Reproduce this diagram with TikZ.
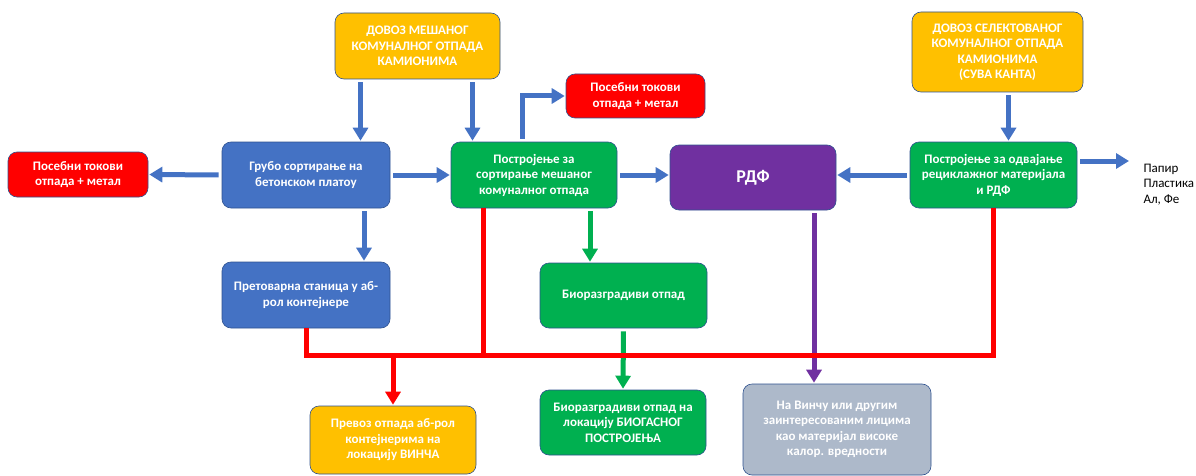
\documentclass[tikz,border=0pt]{standalone}
\usepackage{fontspec}
\setmainfont{Carlito}
\usetikzlibrary{arrows.meta}
\definecolor{sorting}{RGB}{68,114,196}
\definecolor{plant}{RGB}{0,176,80}
\definecolor{stream}{RGB}{255,0,0}
\definecolor{delivery}{RGB}{255,192,0}
\definecolor{refuse}{RGB}{112,48,160}
\definecolor{target}{RGB}{173,185,202}
\definecolor{edge}{RGB}{47,82,143}
\tikzstyle{box}=[draw=edge, line width=0.6pt, rounded corners=9pt, text=white, align=center, inner sep=2pt, font=\bfseries\fontsize{13}{15.5}\selectfont]
\tikzstyle{flow}=[-{Triangle[length=13pt,width=15pt]}, line width=5pt, shorten <=3pt, shorten >=1pt]
\tikzstyle{bus}=[line width=5pt, color=stream]

\begin{document}
\begin{tikzpicture}[x=1pt,y=-1pt]
  \useasboundingbox (0,0) rectangle (1196,476);
  \draw (417.5,46) node[box,fill=delivery,minimum width=165pt,minimum height=66pt] (Dmix) {ДОВОЗ МЕШАНОГ\\КОМУНАЛНОГ ОТПАДА\\КАМИОНИМА};
  \draw (997.5,52) node[box,fill=delivery,minimum width=171pt,minimum height=80pt] (Dsel) {ДОВОЗ СЕЛЕКТОВАНОГ\\КОМУНАЛНОГ ОТПАДА\\КАМИОНИМА\\(СУВА КАНТА)};

  \draw (78,174.5) node[box,fill=stream,minimum width=140pt,minimum height=45pt] (Sleft) {Посебни токови\\отпада + метал};
  \draw (635.5,96) node[box,fill=stream,minimum width=139pt,minimum height=44pt] (Stop) {Посебни токови\\отпада + метал};

  \draw (306,175) node[box,fill=sorting,minimum width=168pt,minimum height=66pt] (Rough) {Грубо сортирање на\\бетонском платоу};
  \draw (534,175) node[box,fill=plant,minimum width=166pt,minimum height=66pt] (Mix) {Постројење за\\сортирање мешаног\\комуналног отпада};
  \draw (753,177.5) node[box,fill=refuse,minimum width=166pt,minimum height=65pt,font=\bfseries\fontsize{18}{20}\selectfont] (RDF) {РДФ};
  \draw (993.5,175) node[box,fill=plant,minimum width=167pt,minimum height=66pt] (Sep) {Постројење за одвајање\\рециклажног материјала\\и РДФ};
  \draw (1140,184.5) node[anchor=west,align=left,font=\fontsize{13}{15.5}\selectfont] (Mat) {Папир\\Пластика\\Ал, Фе};

  \draw (306,295) node[box,fill=sorting,minimum width=168pt,minimum height=66pt] (Trans) {Претоварна станица у аб-\\рол контејнере};
  \draw (623.5,295.5) node[box,fill=plant,minimum width=167pt,minimum height=65pt] (Bio) {Биоразградиви отпад};

  \draw (393,440) node[box,fill=delivery,minimum width=166pt,minimum height=68pt] (Haul) {Превоз отпада аб-рол\\контејнерима на\\локацију ВИНЧА};
  \draw (623,422.5) node[box,fill=plant,minimum width=166pt,minimum height=65pt] (Biogas) {Биоразградиви отпад на\\локацију БИОГАСНОГ\\ПОСТРОЈЕЊА};
  \draw (837,429.5) node[box,fill=target,minimum width=188pt,minimum height=91pt] (Vinca) {На Винчу или другим\\заинтересованим лицима\\као материјал високе\\калор. вредности};

  \coordinate (B) at (0,355);

  %% blue flows
  \draw[flow,color=sorting] ([xshift=-57pt]Dmix.south) -- ([xshift=-57pt]Dmix.south |- Rough.north);
  \draw[flow,color=sorting] ([xshift=55pt]Dmix.south) -- ([xshift=55pt]Dmix.south |- Mix.north);
  \draw[flow,color=sorting] ([xshift=-12pt]Mix.north) |- (Stop.west);
  \draw[flow,color=sorting] (Rough.west) -- (Sleft.east);
  \draw[flow,color=sorting] (Rough.east) -- (Mix.west);
  \draw[flow,color=sorting] (Mix.east) -- (Mix.east -| RDF.west);
  \draw[flow,color=sorting] (Sep.west) -- (Sep.west -| RDF.east);
  \draw[flow,color=sorting] ([yshift=14pt]Sep.east) -- ([yshift=14pt,xshift=-10pt]Sep.east -| Mat.west);
  \draw[flow,color=sorting] ([xshift=11pt]Dsel.south) -- ([xshift=11pt]Dsel.south |- Sep.north);
  \draw[flow,color=sorting] ([xshift=58pt]Rough.south) -- ([xshift=58pt]Trans.north);

  %% green and purple flows
  \draw[flow,color=plant] ([xshift=56pt]Mix.south) -- ([xshift=56pt]Mix.south |- Bio.north);
  \draw[flow,color=plant] (Bio.south) -- (Biogas.north);
  \draw[flow,color=refuse] ([xshift=61pt]RDF.south) -- ([xshift=61pt]RDF.south |- Vinca.north);

  %% red collector
  \draw[bus] ([xshift=-51pt]Mix.south) -- ([xshift=-51pt]Mix.south |- B);
  \draw[bus] (Trans.south) -- (Trans.south |- B) -- (Sep.south |- B) -- (Sep.south);
  \draw[flow,color=stream,shorten <=0pt] (Haul.north |- B) -- (Haul.north);
\end{tikzpicture}
\end{document}
